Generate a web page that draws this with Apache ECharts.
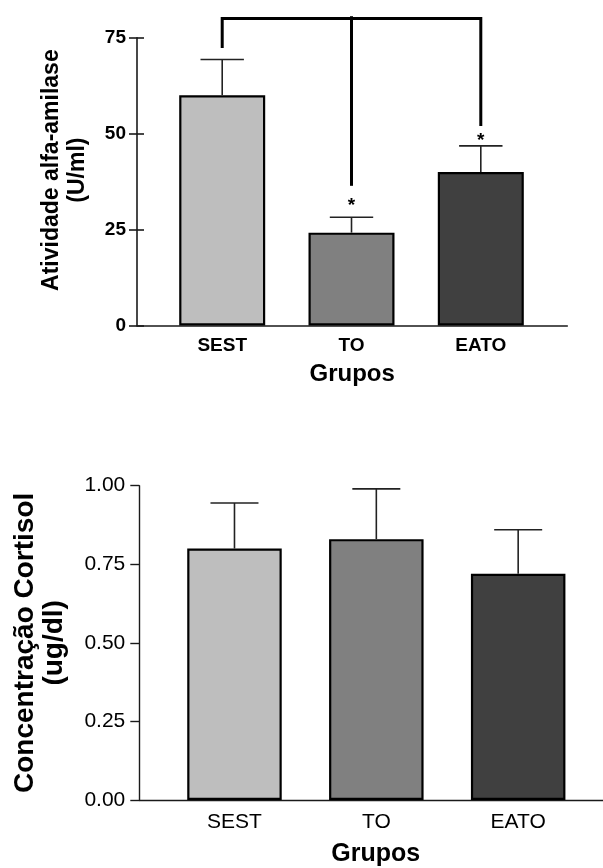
<!DOCTYPE html>
<html>
<head>
<meta charset="utf-8">
<script src="https://cdn.jsdelivr.net/npm/echarts@6/dist/echarts.min.js"></script>
<style>html,body{margin:0;padding:0;background:#fff}#c{width:603px;height:868px}</style>
</head>
<body>
<div id="c"></div>
<script>
// ---- data ----
const categories = ['SEST', 'TO', 'EATO'];
const amilaseMean = [60, 24.2, 40];
const amilaseUpper = [69.3, 28.2, 46.8];
const cortisolMean = [0.80, 0.83, 0.72];
const cortisolUpper = [0.945, 0.99, 0.86];
const amilaseTicks = [0, 25, 50, 75];
const cortisolTicks = ['0.00', '0.25', '0.50', '0.75', '1.00'];
const barColors = ['#bebebe', '#808080', '#404040'];
const bracketMain = [[0, 72.3], [0, 80], [2, 80], [2, 52]];
const bracketTO = [[1, 80.6], [1, 36.4]];
const starY = [null, 32.2, 49.3];

const FONT = '"Liberation Sans", Arial, sans-serif';

function barData(means) {
  return means.map((v, i) => ({ value: [i, v], itemStyle: { color: barColors[i] } }));
}
function errData(means, uppers) {
  return means.map((v, i) => [i, v, uppers[i]]);
}
function errRender(halfCap) {
  return function (params, api) {
    const x = api.value(0), m = api.value(1), u = api.value(2);
    const p0 = api.coord([x, m]);
    const p1 = api.coord([x, u]);
    const st = { stroke: '#222', lineWidth: 1.6 };
    return {
      type: 'group',
      children: [
        { type: 'line', shape: { x1: p0[0], y1: p0[1], x2: p1[0], y2: p1[1] }, style: st },
        { type: 'line', shape: { x1: p1[0] - halfCap, y1: p1[1], x2: p1[0] + halfCap, y2: p1[1] }, style: st }
      ]
    };
  };
}

const chart = echarts.init(document.getElementById('c'), null, { renderer: 'canvas' });
const axisLineStyle = { color: '#1a1a1a', width: 1.6 };
const axisLineStyle2 = { color: '#1a1a1a', width: 1.4 };

const option = {
  animation: false,
  textStyle: { fontFamily: FONT, color: '#000' },
  grid: [
    { left: 137, top: 37.7, right: 35.7, height: 287.8 },
    { left: 139.3, top: 485.7, right: 0, height: 315.3 }
  ],
  xAxis: [
    {
      type: 'value', gridIndex: 0, min: -0.659, max: 2.669,
      axisLine: { show: true, onZero: false, lineStyle: axisLineStyle },
      axisTick: { show: false }, splitLine: { show: false },
      axisLabel: {
        customValues: [0, 1, 2], formatter: v => categories[Math.round(v)],
        fontSize: 19, fontWeight: 'bold', color: '#000', margin: 11, fontFamily: FONT
      },
      name: 'Grupos', nameLocation: 'middle', nameGap: 37,
      nameTextStyle: { fontSize: 24, fontWeight: 'bold', color: '#000', fontFamily: FONT }
    },
    {
      type: 'value', gridIndex: 1, min: -0.671, max: 2.598,
      axisLine: { show: true, onZero: false, lineStyle: axisLineStyle2 },
      axisTick: { show: false }, splitLine: { show: false },
      axisLabel: {
        customValues: [0, 1, 2], formatter: v => categories[Math.round(v)],
        fontSize: 21, color: '#000', margin: 11.5, fontFamily: FONT
      },
      name: 'Grupos', nameLocation: 'middle', nameGap: 42,
      nameTextStyle: { fontSize: 25, fontWeight: 'bold', color: '#000', fontFamily: FONT, padding: [0, 0, 0, 9] }
    }
  ],
  yAxis: [
    {
      type: 'value', gridIndex: 0, position: 'left', min: amilaseTicks[0], max: amilaseTicks[amilaseTicks.length - 1], interval: 25,
      axisLine: { show: true, onZero: false, lineStyle: axisLineStyle },
      axisTick: { show: true, length: 8, lineStyle: axisLineStyle },
      splitLine: { show: false },
      axisLabel: { fontSize: 19, fontWeight: 'bold', color: '#000', margin: 11, fontFamily: FONT },
      name: 'Atividade alfa-amilase\n(U/ml)', nameLocation: 'middle', nameGap: 46, nameRotate: 90,
      nameTextStyle: { fontSize: 23, fontWeight: 'bold', color: '#000', lineHeight: 26, fontFamily: FONT, padding: [0, 0, 0, 23] }
    },
    {
      type: 'value', gridIndex: 0, position: 'left', offset: 0, min: 0, max: 75, interval: 25,
      axisLine: { show: false, onZero: false }, axisLabel: { show: false }, splitLine: { show: false },
      axisTick: { show: true, inside: true, length: 7, lineStyle: axisLineStyle }
    },
    {
      type: 'value', gridIndex: 1, position: 'left', min: 0, max: 1, interval: 0.25,
      axisLine: { show: true, onZero: false, lineStyle: axisLineStyle2 },
      axisTick: { show: true, length: 9, lineStyle: axisLineStyle2 },
      splitLine: { show: false },
      axisLabel: { fontSize: 21, color: '#000', margin: 14, fontFamily: FONT, formatter: v => cortisolTicks[Math.round(v * 4)] },
      name: 'Concentração Cortisol\n(ug/dl)', nameLocation: 'middle', nameGap: 71, nameRotate: 90,
      nameTextStyle: { fontSize: 28, fontWeight: 'bold', color: '#000', lineHeight: 29, fontFamily: FONT }
    }
  ],
  series: [
    {
      type: 'bar', xAxisIndex: 0, yAxisIndex: 0, barWidth: 86,
      data: barData(amilaseMean),
      itemStyle: { borderColor: '#000', borderWidth: 2.2 }, silent: true
    },
    {
      type: 'custom', xAxisIndex: 0, yAxisIndex: 0, z: 3, clip: false,
      renderItem: errRender(21.7), data: errData(amilaseMean, amilaseUpper), silent: true
    },
    {
      type: 'line', xAxisIndex: 0, yAxisIndex: 0, data: bracketMain, symbol: 'none', silent: true, clip: false,
      lineStyle: { color: '#000', width: 3, join: 'miter', cap: 'butt' }
    },
    {
      type: 'line', xAxisIndex: 0, yAxisIndex: 0, data: bracketTO, symbol: 'none', silent: true, clip: false,
      lineStyle: { color: '#000', width: 3, cap: 'butt' }
    },
    {
      type: 'custom', xAxisIndex: 0, yAxisIndex: 0, z: 4, silent: true, clip: false,
      data: starY.map((v, i) => v == null ? null : [i, v]).filter(d => d),
      renderItem: function (params, api) {
        const p = api.coord([api.value(0), api.value(1)]);
        return {
          type: 'text', x: p[0], y: p[1] + 4,
          style: { text: '*', font: 'bold 19px ' + FONT, fill: '#000', align: 'center', verticalAlign: 'middle' }
        };
      }
    },
    {
      type: 'bar', xAxisIndex: 1, yAxisIndex: 2, barWidth: 94.5,
      data: barData(cortisolMean),
      itemStyle: { borderColor: '#000', borderWidth: 2.2 }, silent: true
    },
    {
      type: 'custom', xAxisIndex: 1, yAxisIndex: 2, z: 3, clip: false,
      renderItem: errRender(24), data: errData(cortisolMean, cortisolUpper), silent: true
    }
  ]
};
chart.setOption(option);
</script>
</body>
</html>
